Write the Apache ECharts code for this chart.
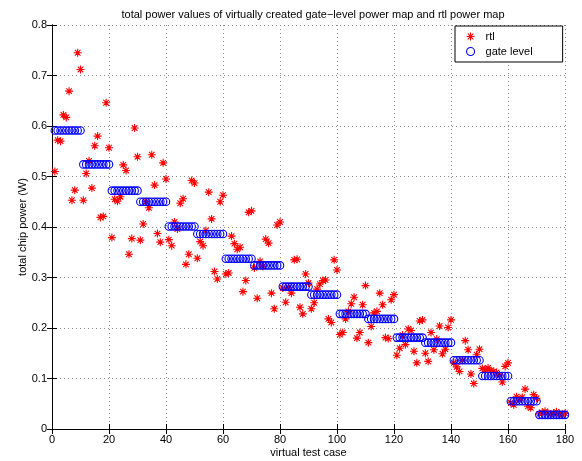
<!DOCTYPE html>
<html>
<head>
<meta charset="utf-8">
<script src="https://cdn.jsdelivr.net/npm/echarts@6/dist/echarts.min.js"></script>
<style>
  html, body { margin: 0; padding: 0; background: #fff; }
  #chart { width: 582px; height: 461px; }
</style>
</head>
<body>
<div id="chart"></div>
<script>
// Test case indices 1..180
const testCases = [
  1,2,3,4,5,6,7,8,9,10, 11,12,13,14,15,16,17,18,19,20,
  21,22,23,24,25,26,27,28,29,30, 31,32,33,34,35,36,37,38,39,40,
  41,42,43,44,45,46,47,48,49,50, 51,52,53,54,55,56,57,58,59,60,
  61,62,63,64,65,66,67,68,69,70, 71,72,73,74,75,76,77,78,79,80,
  81,82,83,84,85,86,87,88,89,90, 91,92,93,94,95,96,97,98,99,100,
  101,102,103,104,105,106,107,108,109,110, 111,112,113,114,115,116,117,118,119,120,
  121,122,123,124,125,126,127,128,129,130, 131,132,133,134,135,136,137,138,139,140,
  141,142,143,144,145,146,147,148,149,150, 151,152,153,154,155,156,157,158,159,160,
  161,162,163,164,165,166,167,168,169,170, 171,172,173,174,175,176,177,178,179,180
];

// Total power estimated from the RTL power map (W)
const rtlPower = [
  0.510,0.572,0.570,0.622,0.617,0.669,0.453,0.473,0.745,0.712,
  0.453,0.506,0.531,0.477,0.561,0.580,0.419,0.421,0.646,0.557,
  0.379,0.455,0.451,0.460,0.523,0.512,0.346,0.377,0.596,0.539,
  0.374,0.406,0.450,0.438,0.543,0.483,0.387,0.370,0.527,0.495,
  0.375,0.363,0.410,0.396,0.447,0.456,0.326,0.346,0.492,0.487,
  0.338,0.371,0.363,0.393,0.469,0.416,0.312,0.297,0.450,0.463,
  0.307,0.309,0.382,0.367,0.356,0.360,0.272,0.294,0.429,0.432,
  0.319,0.259,0.332,0.322,0.376,0.368,0.269,0.238,0.404,0.410,
  0.279,0.251,0.280,0.269,0.335,0.336,0.241,0.228,0.307,0.289,
  0.238,0.250,0.277,0.287,0.294,0.295,0.218,0.211,0.335,0.315,
  0.187,0.191,0.218,0.233,0.248,0.261,0.180,0.191,0.246,0.284,
  0.171,0.203,0.230,0.233,0.269,0.246,0.181,0.179,0.256,0.266,
  0.146,0.160,0.186,0.167,0.198,0.195,0.154,0.131,0.214,0.216,
  0.150,0.134,0.191,0.157,0.178,0.204,0.149,0.158,0.201,0.216,
  0.131,0.123,0.114,0.136,0.175,0.157,0.109,0.090,0.147,0.158,
  0.120,0.117,0.121,0.116,0.114,0.112,0.107,0.093,0.124,0.131,
  0.052,0.048,0.064,0.058,0.063,0.079,0.045,0.042,0.068,0.061,
  0.030,0.033,0.035,0.032,0.029,0.031,0.034,0.030,0.028,0.031
];

// Total power of the gate-level power map (W)
const gatePower = [
  0.591,0.591,0.591,0.591,0.591,0.591,0.591,0.591,0.591,0.591,
  0.524,0.524,0.524,0.524,0.524,0.524,0.524,0.524,0.524,0.524,
  0.472,0.472,0.472,0.472,0.472,0.472,0.472,0.472,0.472,0.472,
  0.450,0.450,0.450,0.450,0.450,0.450,0.450,0.450,0.450,0.450,
  0.401,0.401,0.401,0.401,0.401,0.401,0.401,0.401,0.401,0.401,
  0.386,0.386,0.386,0.386,0.386,0.386,0.386,0.386,0.386,0.386,
  0.337,0.337,0.337,0.337,0.337,0.337,0.337,0.337,0.337,0.337,
  0.324,0.324,0.324,0.324,0.324,0.324,0.324,0.324,0.324,0.324,
  0.282,0.282,0.282,0.282,0.282,0.282,0.282,0.282,0.282,0.282,
  0.266,0.266,0.266,0.266,0.266,0.266,0.266,0.266,0.266,0.266,
  0.228,0.228,0.228,0.228,0.228,0.228,0.228,0.228,0.228,0.228,
  0.218,0.218,0.218,0.218,0.218,0.218,0.218,0.218,0.218,0.218,
  0.181,0.181,0.181,0.181,0.181,0.181,0.181,0.181,0.181,0.181,
  0.171,0.171,0.171,0.171,0.171,0.171,0.171,0.171,0.171,0.171,
  0.136,0.136,0.136,0.136,0.136,0.136,0.136,0.136,0.136,0.136,
  0.105,0.105,0.105,0.105,0.105,0.105,0.105,0.105,0.105,0.105,
  0.055,0.055,0.055,0.055,0.055,0.055,0.055,0.055,0.055,0.055,
  0.028,0.028,0.028,0.028,0.028,0.028,0.028,0.028,0.028,0.028
];

const xTicks = [0, 20, 40, 60, 80, 100, 120, 140, 160, 180];
const yTicks = [0, 0.1, 0.2, 0.3, 0.4, 0.5, 0.6, 0.7, 0.8];

const seriesNames = ['rtl', 'gate level'];
const titleText = 'total power values of virtually created gate\u2212level power map and rtl power map';
const xLabel = 'virtual test case';
const yLabel = 'total chip power (W)';

// Eight-spoke asterisk marker
const asterisk = 'path://M0,-5L0,5M-5,0L5,0M-3.5,-3.5L3.5,3.5M-3.5,3.5L3.5,-3.5';

const FONT = '"Liberation Sans", Arial, Helvetica, sans-serif';
const gridLine = { show: true, lineStyle: { color: '#888', type: [1, 3], width: 1 } };
const frameLine = { show: true, lineStyle: { color: '#000', width: 1 } };
const innerTick = { show: true, inside: true, length: 5, lineStyle: { color: '#000', width: 1 } };

const rtlStyle = { color: 'rgba(0,0,0,0)', borderColor: '#ff0000', borderWidth: 1.1, opacity: 1 };
const gateStyle = { color: 'rgba(255,255,255,0)', borderColor: '#0000ff', borderWidth: 1.1, opacity: 1 };

const chart = echarts.init(document.getElementById('chart'), null, { renderer: 'canvas' });

chart.setOption({
  backgroundColor: '#fff',
  animation: false,
  title: {
    text: titleText,
    left: 308,
    textAlign: 'center',
    top: 4,
    textStyle: { fontFamily: FONT, fontSize: 11, fontWeight: 'normal', color: '#000' }
  },
  grid: { left: 52, right: 17, top: 25, bottom: 32, containLabel: false, outerBoundsMode: 'none' },
  legend: {
    orient: 'vertical',
    left: 455,
    top: 26,
    padding: [5, 30, 5, 11],
    itemWidth: 20,
    itemHeight: 8,
    itemGap: 4,
    backgroundColor: '#fff',
    borderColor: '#000',
    borderWidth: 1,
    borderRadius: 0,
    textStyle: { fontFamily: FONT, fontSize: 11, color: '#000' },
    data: [
      { name: seriesNames[0], icon: asterisk, itemStyle: rtlStyle },
      { name: seriesNames[1], icon: 'circle', itemStyle: gateStyle }
    ]
  },
  xAxis: [
    {
      type: 'value', min: xTicks[0], max: xTicks[xTicks.length - 1], interval: 20,
      name: xLabel, nameLocation: 'middle', nameGap: 18, nameMoveOverlap: false,
      nameTextStyle: { fontFamily: FONT, fontSize: 11, color: '#000' },
      axisLine: frameLine, axisTick: innerTick, splitLine: gridLine,
      axisLabel: { fontFamily: FONT, fontSize: 11, color: '#000', margin: 5 }
    },
    {
      type: 'value', position: 'top', min: xTicks[0], max: xTicks[xTicks.length - 1], interval: 20,
      axisLine: frameLine, axisTick: innerTick, splitLine: { show: false },
      axisLabel: { show: false }
    }
  ],
  yAxis: [
    {
      type: 'value', min: yTicks[0], max: yTicks[yTicks.length - 1], interval: 0.1,
      name: yLabel, nameLocation: 'middle', nameGap: 24, nameMoveOverlap: false,
      nameTextStyle: { fontFamily: FONT, fontSize: 11, color: '#000' },
      axisLine: frameLine, axisTick: innerTick, splitLine: gridLine,
      axisLabel: { fontFamily: FONT, fontSize: 11, color: '#000', margin: 5,
        formatter: v => String(Math.round(v * 10) / 10) }
    },
    {
      type: 'value', position: 'right', min: yTicks[0], max: yTicks[yTicks.length - 1], interval: 0.1,
      axisLine: frameLine, axisTick: innerTick, splitLine: { show: false },
      axisLabel: { show: false }
    }
  ],
  series: [
    {
      name: seriesNames[0],
      type: 'scatter',
      symbol: asterisk,
      symbolSize: 8,
      itemStyle: rtlStyle,
      data: testCases.map((x, i) => [x, rtlPower[i]]),
      z: 2
    },
    {
      name: seriesNames[1],
      type: 'scatter',
      symbol: 'circle',
      symbolSize: 7.5,
      itemStyle: gateStyle,
      data: testCases.map((x, i) => [x, gatePower[i]]),
      z: 3
    }
  ]
});
</script>
</body>
</html>
